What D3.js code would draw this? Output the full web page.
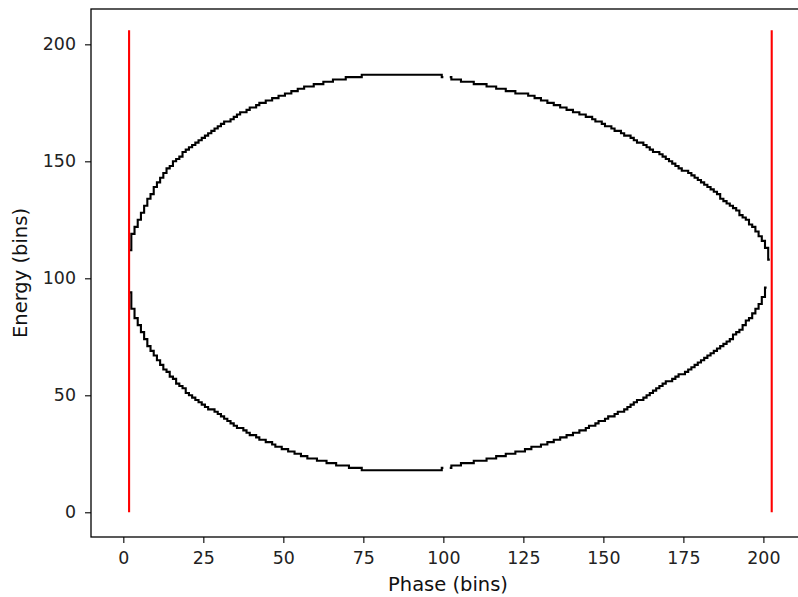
<!DOCTYPE html>
<html>
<head>
<meta charset="utf-8">
<script src="https://cdn.jsdelivr.net/npm/d3@7"></script>
<style>
  body { margin: 0; background: #fff; }
  text { font-family: "DejaVu Sans", sans-serif; }
</style>
</head>
<body>
<svg id="chart" width="798" height="597"></svg>
<script>
// Separatrix of the RF bucket, one energy bin per phase bin (phase 2 .. 202).
// A null marks the phase bin where the contour is broken.
const phaseStart = 2;
const upperEnergy = [
  112,119,122,125,128,131,134,136,139,141,
  143,145,147,148,150,151,152,154,155,156,
  157,158,159,160,161,162,163,164,165,166,
  167,167,168,169,170,171,171,172,173,173,
  174,175,175,176,176,177,177,178,178,179,
  179,180,180,181,181,182,182,182,183,183,
  183,184,184,184,185,185,185,185,186,186,
  186,186,186,187,187,187,187,187,187,187,
  187,187,187,187,187,187,187,187,187,187,
  187,187,187,187,187,187,187,187,186,null,
  186,185,185,185,184,184,184,184,183,183,
  183,183,182,182,182,181,181,181,180,180,
  180,179,179,179,179,178,178,177,177,176,
  176,175,175,174,174,173,173,172,172,171,
  171,170,170,169,169,168,167,167,166,165,
  165,164,163,163,162,161,161,160,159,158,
  158,157,156,155,154,154,153,152,151,150,
  149,148,147,146,146,145,144,143,142,141,
  140,139,138,137,136,134,133,132,131,130,
  129,127,126,125,123,122,120,118,116,113,
  108
];
const lowerEnergy = [
  94,87,83,80,77,74,71,69,67,65,
  63,61,60,58,57,55,54,53,51,50,
  49,48,47,46,45,44,44,43,42,41,
  40,39,38,37,36,36,35,34,33,33,
  32,31,31,30,30,29,28,28,27,27,
  26,26,25,25,24,24,23,23,23,22,
  22,22,21,21,21,20,20,20,20,19,
  19,19,19,18,18,18,18,18,18,18,
  18,18,18,18,18,18,18,18,18,18,
  18,18,18,18,18,18,18,18,19,null,
  19,20,20,20,21,21,21,21,22,22,
  22,22,23,23,23,24,24,24,25,25,
  25,26,26,26,27,27,28,28,28,29,
  29,30,30,31,31,32,32,33,33,34,
  34,35,35,36,37,37,38,39,39,40,
  41,41,42,43,43,44,45,46,47,48,
  48,49,50,51,52,53,54,55,56,56,
  57,58,59,59,60,61,62,63,64,65,
  66,67,68,69,70,71,72,73,74,76,
  77,78,80,82,83,85,87,89,92,96
];
// Bucket boundaries (phase bins) and the energy span they cover
const boundaryPhases = [1.8, 202.6];
const boundaryEnergy = [0, 206];

const xTicks = [0, 25, 50, 75, 100, 125, 150, 175, 200];
const yTicks = [0, 50, 100, 150, 200];
const xLabel = "Phase (bins)";
const yLabel = "Energy (bins)";

const svg = d3.select("#chart");
const plot = { left: 91, right: 805, top: 9, bottom: 537 };

const x = d3.scaleLinear().domain([-10.1, 213]).range([plot.left, plot.right]);
const y = d3.scaleLinear().domain([-10.56, 215.1]).range([plot.bottom, plot.top]);

// Separatrix halves as stepped lines
const step = d3.line()
  .defined(d => d[1] !== null)
  .x(d => x(d[0]))
  .y(d => y(d[1]))
  .curve(d3.curveStep);

[upperEnergy, lowerEnergy].forEach(series => {
  const pts = series.map((v, i) => [phaseStart + i, v]);
  svg.append("path")
    .attr("d", step(pts))
    .attr("fill", "none")
    .attr("stroke", "#000")
    .attr("stroke-width", 2.1)
    .attr("stroke-linejoin", "miter");
});

// Bucket boundary markers
svg.selectAll("line.boundary")
  .data(boundaryPhases)
  .join("line")
  .attr("class", "boundary")
  .attr("x1", d => x(d)).attr("x2", d => x(d))
  .attr("y1", y(boundaryEnergy[0])).attr("y2", y(boundaryEnergy[1]))
  .attr("stroke", "#ff0000")
  .attr("stroke-width", 2.1);

// Axes
const xAxis = d3.axisBottom(x).tickValues(xTicks).tickSize(6).tickPadding(8.5);
const yAxis = d3.axisLeft(y).tickValues(yTicks).tickSize(6).tickPadding(9);

const gx = svg.append("g").attr("transform", `translate(0,${plot.bottom})`).call(xAxis);
const gy = svg.append("g").attr("transform", `translate(${plot.left},0)`).call(yAxis);
[gx, gy].forEach(g => {
  g.select(".domain").remove();
  g.selectAll(".tick line").attr("stroke", "#000").attr("stroke-width", 1.1);
  g.selectAll(".tick text")
    .attr("fill", "#222")
    .style("font-size", "17.4px")
    .style("font-family", '"DejaVu Sans", sans-serif');
});

// Spines
svg.append("rect")
  .attr("x", plot.left).attr("y", plot.top)
  .attr("width", plot.right - plot.left).attr("height", plot.bottom - plot.top)
  .attr("fill", "none").attr("stroke", "#000").attr("stroke-width", 1.3);

// Axis titles
svg.append("text")
  .attr("x", (plot.left + plot.right) / 2).attr("y", 591)
  .attr("text-anchor", "middle")
  .attr("fill", "#111")
  .style("font-size", "19.5px")
  .text(xLabel);

svg.append("text")
  .attr("transform", `translate(27,${(plot.top + plot.bottom) / 2}) rotate(-90)`)
  .attr("text-anchor", "middle")
  .attr("fill", "#111")
  .style("font-size", "19.5px")
  .text(yLabel);
</script>
</body>
</html>
